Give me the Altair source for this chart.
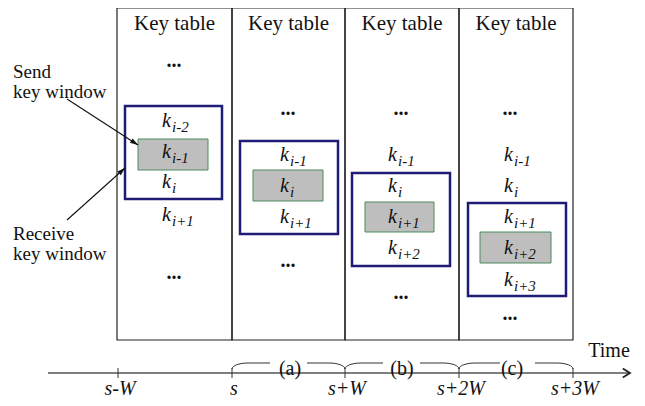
import math
import altair as alt
import pandas as pd

# ---------------- data (diagram coordinates in reference pixels) ----------------
panel_titles = ["Key table", "Key table", "Key table", "Key table"]
panel_left = [117, 232, 345, 459]
panel_right = [232, 345, 459, 573]
panel_top = 8
panel_bottom = 340
panel_title_y = 30
panel_center = [174.5, 288.5, 402, 516]

key_x = [162, 280, 388, 504]
key_panel = [0, 0, 0, 0, 1, 1, 1, 2, 2, 2, 2, 3, 3, 3, 3, 3]
key_sub = ["i-2", "i-1", "i", "i+1",
           "i-1", "i", "i+1",
           "i-1", "i", "i+1", "i+2",
           "i-1", "i", "i+1", "i+2", "i+3"]
key_base = [127, 158, 188, 221,
            161, 192, 223,
            161, 192, 223, 254,
            161, 192, 223, 254, 286]

dots_x = [174, 174, 288, 288, 401, 401, 510, 510]
dots_y = [65, 277, 113, 265, 113, 297, 113, 318]

recv_x1 = [125, 240, 352, 468]
recv_x2 = [222, 338, 450, 566]
recv_y1 = [106, 141, 173, 203]
recv_y2 = [199, 234, 266, 296]

send_x1 = [138, 253, 365, 480]
send_x2 = [208, 323, 434, 551]
send_y1 = [139, 170, 202, 232]
send_y2 = [170, 201, 232, 263]

label_lines = ["Send", "key window", "Receive", "key window"]
label_y = [78, 98, 240, 260]
label_x = [13, 13, 13, 13]

arrow_from_x = [67, 67]
arrow_from_y = [99, 220]
arrow_to_x = [138, 125]
arrow_to_y = [145, 168]

tick_labels = ["s-W", "s", "s+W", "s+2W", "s+3W"]
tick_x = [118, 232, 345, 459, 573]
axis_x = [48, 630]
axis_y = 373

phase_labels = ["(a)", "(b)", "(c)"]
phase_text_x = [290, 402, 512]
phase_left_end = [270, 383, 500]
phase_right_start = [307, 420, 535]

time_label = "Time"
time_x = 609
time_y = 357

# ---------------- scales ----------------
W, H = 629, 390
xs = alt.Scale(domain=[8, 8 + W], nice=False, zero=False)
ys = alt.Scale(domain=[8, 8 + H], nice=False, zero=False, reverse=True)


def X(f):
    return alt.X(f, type="quantitative", scale=xs, axis=None)


def Y(f):
    return alt.Y(f, type="quantitative", scale=ys, axis=None)


FONT = "'Liberation Serif', 'Times New Roman', Times, serif"
INK = "#111111"

# ---------------- tables ----------------
panels = pd.DataFrame({
    "x1": panel_left, "x2": panel_right,
    "y1": [panel_top] * 4, "y2": [panel_bottom] * 4,
    "title": panel_titles, "cx": panel_center, "ty": [panel_title_y] * 4,
})
recv = pd.DataFrame({"x1": recv_x1, "x2": recv_x2, "y1": recv_y1, "y2": recv_y2})
send = pd.DataFrame({"x1": send_x1, "x2": send_x2, "y1": send_y1, "y2": send_y2})
keys = pd.DataFrame({
    "kx": [key_x[p] for p in key_panel],
    "sx": [key_x[p] + 10 for p in key_panel],
    "ky": key_base,
    "sy": [b + 5 for b in key_base],
    "k": ["k"] * len(key_base),
    "sub": key_sub,
})
dots = pd.DataFrame({"x": dots_x, "y": [d + 2 for d in dots_y], "t": ["..."] * len(dots_x)})
labels = pd.DataFrame({"x": label_x, "y": label_y, "t": label_lines})

arrows = pd.DataFrame({
    "x1": arrow_from_x, "y1": arrow_from_y, "x2": arrow_to_x, "y2": arrow_to_y,
})
arrows["ang"] = [
    (math.degrees(math.atan2(x2 - x1, -(y2 - y1))) + 360) % 360
    for x1, y1, x2, y2 in zip(arrow_from_x, arrow_from_y, arrow_to_x, arrow_to_y)
]

axis_df = pd.DataFrame({"x1": [axis_x[0]], "x2": [axis_x[1]], "y": [axis_y]})
ticks = pd.DataFrame({"x": tick_x, "y1": [axis_y - 5] * 5, "y2": [axis_y + 5] * 5,
                      "lx": [t + 2 for t in tick_x], "ly": [395] * 5, "t": tick_labels})
tip = pd.DataFrame({"x": [axis_x[1]], "y": [axis_y]})
time_df = pd.DataFrame({"x": [time_x], "y": [time_y], "t": [time_label]})

# braces
rows = []
steps = 8
for j in range(3):
    x0 = tick_x[j + 1]
    x1 = tick_x[j + 2]
    seg = f"L{j}"
    o = 0
    for s in range(steps + 1):
        th = math.pi / 2 * s / steps
        rows.append({"seg": seg, "o": o, "x": x0 + 16 - 16 * math.cos(th), "y": axis_y - 4 - 6 * math.sin(th)})
        o += 1
    rows.append({"seg": seg, "o": o, "x": phase_left_end[j], "y": axis_y - 10})
    seg = f"R{j}"
    o = 0
    rows.append({"seg": seg, "o": o, "x": phase_right_start[j], "y": axis_y - 10})
    o += 1
    for s in range(steps, -1, -1):
        th = math.pi / 2 * s / steps
        rows.append({"seg": seg, "o": o, "x": x1 - 16 + 16 * math.cos(th), "y": axis_y - 4 - 6 * math.sin(th)})
        o += 1
braces = pd.DataFrame(rows)
phase_df = pd.DataFrame({"x": phase_text_x, "y": [axis_y - 4] * 3, "t": phase_labels})


def txt(df, **kw):
    base = dict(font=FONT, color=INK, baseline="alphabetic")
    base.update(kw)
    return alt.Chart(df).mark_text(**base)


# ---------------- layers ----------------
panel_rect = alt.Chart(panels).mark_rect(fillOpacity=0, stroke="#222222", strokeWidth=1.2).encode(
    x=X("x1"), x2="x2", y=Y("y1"), y2="y2")
panel_text = txt(panels, fontSize=21, align="center").encode(
    x=X("cx"), y=Y("ty"), text="title:N")

recv_rect = alt.Chart(recv).mark_rect(fillOpacity=0, stroke="#1e1c74", strokeWidth=2.5).encode(
    x=X("x1"), x2="x2", y=Y("y1"), y2="y2")
send_rect = alt.Chart(send).mark_rect(fill="#bebebe", stroke="#4b8a5c", strokeWidth=1).encode(
    x=X("x1"), x2="x2", y=Y("y1"), y2="y2")

k_text = txt(keys, fontSize=20, fontStyle="italic", align="left").encode(
    x=X("kx"), y=Y("ky"), text="k:N")
sub_text = txt(keys, fontSize=15, fontStyle="italic", align="left").encode(
    x=X("sx"), y=Y("sy"), text="sub:N")

dots_text = txt(dots, fontSize=20, fontWeight="bold", align="center").encode(
    x=X("x"), y=Y("y"), text="t:N")

label_text = txt(labels, fontSize=19, align="left").encode(
    x=X("x"), y=Y("y"), text="t:N")

arrow_shaft = alt.Chart(arrows).mark_rule(color=INK, strokeWidth=1.1).encode(
    x=X("x1"), y=Y("y1"), x2="x2", y2="y2")
arrow_head = alt.Chart(arrows).mark_point(
    shape="M0,0L-0.32,1L0.32,1Z", filled=True, size=256, color=INK, opacity=1).encode(
    x=X("x2"), y=Y("y2"), angle=alt.Angle("ang:Q", scale=None))

axis_line = alt.Chart(axis_df).mark_rule(color="#555555", strokeWidth=1.6).encode(
    x=X("x1"), x2="x2", y=Y("y"))
tick_rules = alt.Chart(ticks).mark_rule(color="#333333", strokeWidth=1).encode(
    x=X("x"), y=Y("y1"), y2="y2")
tick_text = txt(ticks, fontSize=20, fontStyle="italic", align="center").encode(
    x=X("lx"), y=Y("ly"), text="t:N")
tip_mark = alt.Chart(tip).mark_point(
    shape="M-1.6,-1L0,0L-1.6,1", filled=False, size=81, color="#222222", strokeWidth=1.8, opacity=1).encode(
    x=X("x"), y=Y("y"))
time_text = txt(time_df, fontSize=20, align="center").encode(
    x=X("x"), y=Y("y"), text="t:N")

brace_lines = alt.Chart(braces).mark_line(color="#333333", strokeWidth=1).encode(
    x=X("x"), y=Y("y"), detail="seg:N", order="o:Q")
phase_text = txt(phase_df, fontSize=20, align="center", baseline="middle").encode(
    x=X("x"), y=Y("y"), text="t:N")

chart = alt.layer(
    panel_rect, panel_text, recv_rect, send_rect, k_text, sub_text, dots_text,
    label_text, arrow_shaft, arrow_head, axis_line, tick_rules, tick_text,
    tip_mark, time_text, brace_lines, phase_text,
).properties(
    width=W, height=H, padding=0, autosize=alt.AutoSizeParams(type="none"), background="white"
).configure_view(stroke=None)

chart.save("out.html", embed_options={"renderer": "svg", "actions": False})
